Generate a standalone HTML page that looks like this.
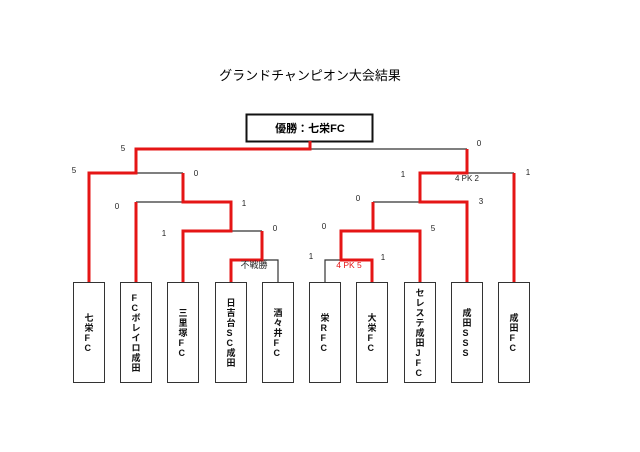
<!DOCTYPE html>
<html><head><meta charset="utf-8"><style>
body{margin:0;background:#fff;}
svg{display:block;font-family:"Liberation Sans","Noto Sans CJK JP",sans-serif;}
.t{font-size:13px;}
.s{font-size:8px;fill:#222;}
.n{position:absolute;width:32px;height:101px;box-sizing:border-box;border:1.5px solid #333;display:flex;flex-direction:column;align-items:center;justify-content:center;font-family:"Liberation Sans","Noto Sans CJK JP",sans-serif;font-size:9px;font-weight:bold;line-height:10px;color:#111;background:#fff;}
</style></head><body>
<div style="position:relative;width:640px;height:452px;overflow:hidden;">
<svg width="640" height="452" viewBox="0 0 640 452">
<text x="310" y="80" text-anchor="middle" class="t">グランドチャンピオン大会結果</text>
<rect x="246.5" y="114.5" width="126" height="27" fill="#fff" stroke="#111" stroke-width="2"/>
<text x="310" y="132" text-anchor="middle" font-size="11" font-weight="bold">優勝：七栄FC</text>
<g fill="none" stroke="#333" stroke-width="1.2">
<path d="M310 149H467"/>
<path d="M136 173H183"/>
<path d="M136 202H183"/>
<path d="M231 231H262"/>
<path d="M262 260H278V282"/>
<path d="M467 173H514"/>
<path d="M373 202H420"/>
<path d="M325 282V260H341"/>
</g>
<g fill="none" stroke="#e51515" stroke-width="3">
<path d="M310 141V149H136V173H89V282"/>
<path d="M183 173V202H231V231H183V282"/>
<path d="M136 202V282"/>
<path d="M262 231V260H231V282"/>
<path d="M467 149V173H420V202H467V282"/>
<path d="M514 173V282"/>
<path d="M373 202V231H420V282"/>
<path d="M373 231H341V260H372V282"/>
</g>
<g class="s" text-anchor="middle">
<text x="123" y="151">5</text><text x="74" y="173">5</text><text x="196" y="176">0</text>
<text x="117" y="209">0</text><text x="244" y="206">1</text><text x="164" y="236">1</text>
<text x="275" y="231">0</text>
<text x="479" y="146">0</text><text x="403" y="177">1</text><text x="528" y="175">1</text>
<text x="358" y="201">0</text><text x="481" y="204">3</text><text x="433" y="231">5</text>
<text x="324" y="229">0</text><text x="311" y="259">1</text><text x="383" y="260">1</text>
<text x="467" y="181">4 PK 2</text>
<text x="254" y="268" font-size="9">不戦勝</text>
<text x="349" y="268" font-size="8.5" style="fill:#e51515">4 PK 5</text>
</g>
</svg>
<div class="n" style="left:73px;top:282px">七<br>栄<br>F<br>C</div>
<div class="n" style="left:120px;top:282px">F<br>C<br>ボ<br>レ<br>イ<br>ロ<br>成<br>田</div>
<div class="n" style="left:167px;top:282px">三<br>里<br>塚<br>F<br>C</div>
<div class="n" style="left:215px;top:282px">日<br>吉<br>台<br>S<br>C<br>成<br>田</div>
<div class="n" style="left:262px;top:282px">酒<br>々<br>井<br>F<br>C</div>
<div class="n" style="left:309px;top:282px">栄<br>R<br>F<br>C</div>
<div class="n" style="left:356px;top:282px">大<br>栄<br>F<br>C</div>
<div class="n" style="left:404px;top:282px">セ<br>レ<br>ス<br>テ<br>成<br>田<br>J<br>F<br>C</div>
<div class="n" style="left:451px;top:282px">成<br>田<br>S<br>S<br>S</div>
<div class="n" style="left:498px;top:282px">成<br>田<br>F<br>C</div>
</div>
</body></html>
